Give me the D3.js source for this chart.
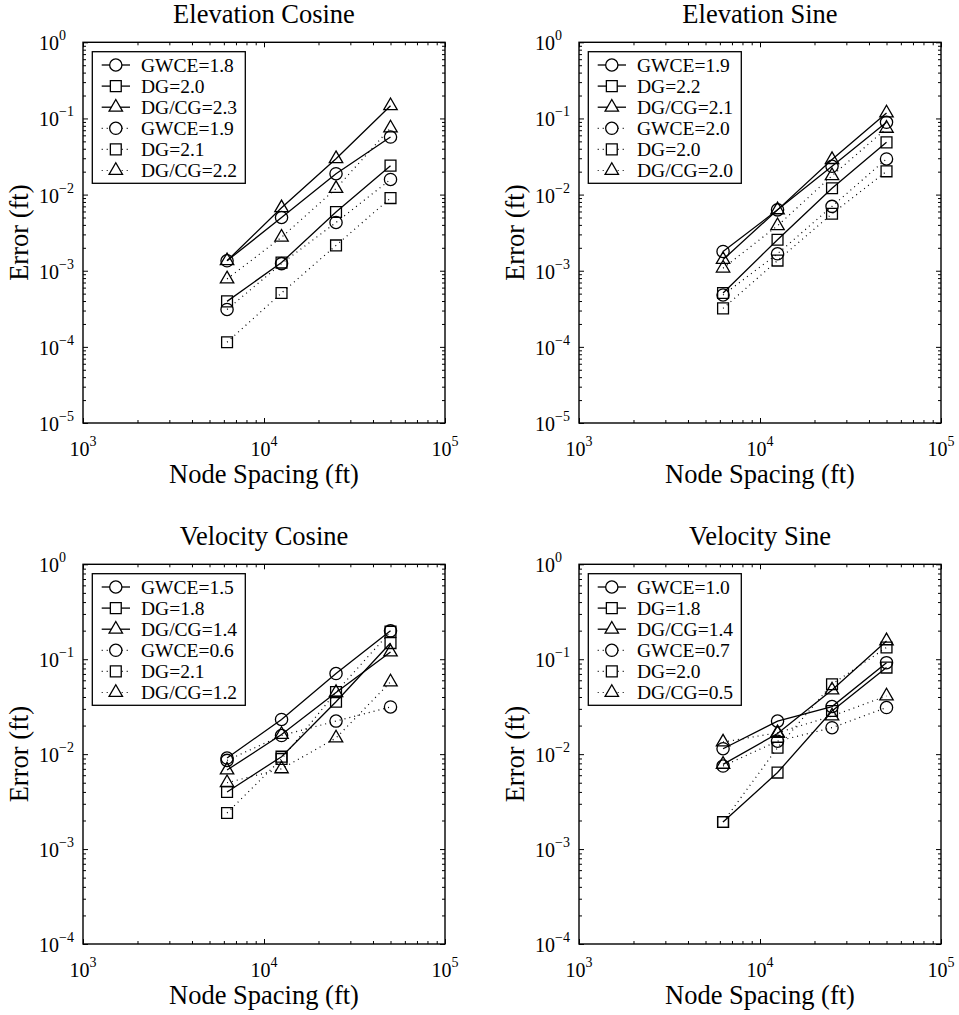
<!DOCTYPE html>
<html>
<head>
<meta charset="utf-8">
<script src="https://cdn.jsdelivr.net/npm/d3@7"></script>
<style>
body { margin: 0; background: white; }
text { font-family: "Liberation Serif", "Times New Roman", serif; fill: black; }
</style>
</head>
<body>
<script>
// node spacings (ft) shared by every panel
var spacing = [6250, 12500, 25000, 50000];

// errors (ft): solid GWCE, DG, DG/CG then dotted GWCE, DG, DG/CG
var elevCosLabels = ["GWCE=1.8", "DG=2.0", "DG/CG=2.3", "GWCE=1.9", "DG=2.1", "DG/CG=2.2"];
var elevCos = [
    [1.35e-3, 5.0e-3, 0.0188, 0.057],
    [3.96e-4, 1.28e-3, 5.9e-3, 0.024],
    [1.35e-3, 6.7e-3, 0.0296, 0.147],
    [3.1e-4, 1.24e-3, 4.3e-3, 0.0158],
    [1.15e-4, 5.1e-4, 2.15e-3, 9.0e-3],
    [7.8e-4, 2.75e-3, 0.012, 0.075]
];
var elevSinLabels = ["GWCE=1.9", "DG=2.2", "DG/CG=2.1", "GWCE=2.0", "DG=2.0", "DG/CG=2.0"];
var elevSin = [
    [1.79e-3, 6.3e-3, 0.0235, 0.089],
    [5.1e-4, 2.55e-3, 0.0121, 0.0485],
    [1.4e-3, 6.3e-3, 0.0288, 0.118],
    [4.8e-4, 1.67e-3, 7.0e-3, 0.0294],
    [3.2e-4, 1.36e-3, 5.6e-3, 0.0202],
    [1.08e-3, 3.9e-3, 0.0177, 0.074]
];
var velCosLabels = ["GWCE=1.5", "DG=1.8", "DG/CG=1.4", "GWCE=0.6", "DG=2.1", "DG/CG=1.2"];
var velCos = [
    [9.1e-3, 0.0232, 0.0706, 0.199],
    [4.0e-3, 9.4e-3, 0.0357, 0.148],
    [6.8e-3, 0.0161, 0.0445, 0.119],
    [8.6e-3, 0.0157, 0.0223, 0.0314],
    [2.4e-3, 8.9e-3, 0.0451, 0.195],
    [5.0e-3, 7.0e-3, 0.0148, 0.0576]
];
var velSinLabels = ["GWCE=1.0", "DG=1.8", "DG/CG=1.4", "GWCE=0.7", "DG=2.0", "DG/CG=0.5"];
var velSin = [
    [0.0114, 0.0223, 0.0317, 0.092],
    [1.93e-3, 6.4e-3, 0.0285, 0.0817],
    [7.8e-3, 0.0165, 0.0474, 0.156],
    [7.5e-3, 0.0137, 0.019, 0.031],
    [1.93e-3, 0.0117, 0.0545, 0.133],
    [0.0134, 0.0168, 0.0252, 0.041]
];

var markers = ["circle", "square", "triangle", "circle", "square", "triangle"];
var dotted = [false, false, false, true, true, true];

var panels = [
    {title: "Elevation Cosine", data: elevCos, labels: elevCosLabels, left: 83, top: 42.3, bottom: 423, yMin: 1e-5},
    {title: "Elevation Sine", data: elevSin, labels: elevSinLabels, left: 579, top: 42.3, bottom: 423, yMin: 1e-5},
    {title: "Velocity Cosine", data: velCos, labels: velCosLabels, left: 83, top: 564.3, bottom: 944, yMin: 1e-4},
    {title: "Velocity Sine", data: velSin, labels: velSinLabels, left: 579, top: 564.3, bottom: 944, yMin: 1e-4}
];
var plotWidth = 362;

var svg = d3.select("body").append("svg")
    .attr("width", 959)
    .attr("height", 1015);

function symbolPath(kind) {
    var type = d3.symbolCircle, size = 118;
    if (kind == "square") { type = d3.symbolSquare; size = 118; }
    if (kind == "triangle") { type = d3.symbolTriangle; size = 78; }
    return d3.symbol().type(type).size(size)();
}

// decade + minor ticks for a log domain
function logTicks(lo, hi) {
    var major = [], minor = [];
    for (var e = Math.round(Math.log10(lo)); e <= Math.round(Math.log10(hi)); e++) {
        major.push(Math.pow(10, e));
        if (e < Math.round(Math.log10(hi)))
            for (var m = 2; m <= 9; m++) minor.push(m * Math.pow(10, e));
    }
    return {major: major, minor: minor};
}

// "10" with a raised exponent
function powerLabel(sel, exp) {
    sel.append("tspan").text("10");
    sel.append("tspan").attr("dy", -10).attr("font-size", 14)
        .text(exp < 0 ? "\u2212" + (-exp) : exp);
}

panels.forEach(function(p) {
    var g = svg.append("g");
    var right = p.left + plotWidth;
    var x = d3.scaleLog().domain([1e3, 1e5]).range([p.left, right]);
    var y = d3.scaleLog().domain([p.yMin, 1]).range([p.bottom, p.top]);

    var xt = logTicks(1e3, 1e5), yt = logTicks(p.yMin, 1);

    // tick marks on all four sides, pointing inward
    [[d3.axisBottom, p.bottom, x, "x"], [d3.axisTop, p.top, x, "x"],
     [d3.axisLeft, p.left, y, "y"], [d3.axisRight, right, y, "y"]].forEach(function(a) {
        var ticks = a[3] == "x" ? xt : yt;
        var tr = a[3] == "x" ? "translate(0," + a[1] + ")" : "translate(" + a[1] + ",0)";
        [[ticks.major, 5], [ticks.minor, 3]].forEach(function(t) {
            g.append("g").attr("transform", tr)
                .call(a[0](a[2]).tickValues(t[0]).tickSize(-t[1]).tickFormat(""))
                .call(function(s) {
                    s.select(".domain").remove();
                    s.selectAll("line").attr("stroke", "black").attr("stroke-width", 1);
                });
        });
    });

    g.append("rect")
        .attr("x", p.left).attr("y", p.top)
        .attr("width", plotWidth).attr("height", p.bottom - p.top)
        .attr("fill", "none").attr("stroke", "black").attr("stroke-width", 1.4);

    // tick labels
    xt.major.forEach(function(v) {
        g.append("text")
            .attr("x", x(v)).attr("y", p.bottom + 33)
            .attr("text-anchor", "middle").attr("font-size", 20)
            .call(powerLabel, Math.round(Math.log10(v)));
    });
    yt.major.forEach(function(v) {
        g.append("text")
            .attr("x", p.left - 44).attr("y", y(v) + 8)
            .attr("font-size", 20)
            .call(powerLabel, Math.round(Math.log10(v)));
    });

    g.append("text")
        .attr("x", (p.left + right) / 2).attr("y", p.top - 19)
        .attr("text-anchor", "middle").attr("font-size", 26.5)
        .text(p.title);
    g.append("text")
        .attr("x", (p.left + right) / 2).attr("y", p.bottom + 60)
        .attr("text-anchor", "middle").attr("font-size", 26.5)
        .text("Node Spacing (ft)");
    g.append("text")
        .attr("transform", "translate(" + (p.left - 55) + "," + ((p.top + p.bottom) / 2) + ") rotate(-90)")
        .attr("text-anchor", "middle").attr("font-size", 26.5)
        .text("Error (ft)");

    var line = d3.line()
        .x(function(d, i) { return x(spacing[i]); })
        .y(function(d) { return y(d); });

    p.data.forEach(function(series, k) {
        g.append("path")
            .attr("d", line(series))
            .attr("fill", "none").attr("stroke", "black")
            .attr("stroke-width", dotted[k] ? 1.2 : 1.3)
            .attr("stroke-dasharray", dotted[k] ? "1,4" : null);
        g.selectAll(null)
            .data(series)
            .enter()
            .append("path")
            .attr("d", symbolPath(markers[k]))
            .attr("transform", function(d, i) { return "translate(" + x(spacing[i]) + "," + y(d) + ")"; })
            .attr("fill", "none").attr("stroke", "black").attr("stroke-width", 1.3);
    });

    // legend box
    var lx = p.left + 9.3, ly = p.top + 9.4, rowH = 21.1;
    g.append("rect")
        .attr("x", lx).attr("y", ly)
        .attr("width", 153).attr("height", 131.6)
        .attr("fill", "white").attr("stroke", "black").attr("stroke-width", 1.3);
    p.labels.forEach(function(lab, k) {
        var cy = ly + 13.3 + k * rowH;
        g.append("line")
            .attr("x1", lx + 9.4).attr("x2", lx + 37.7)
            .attr("y1", cy).attr("y2", cy)
            .attr("stroke", "black").attr("stroke-width", dotted[k] ? 1.2 : 1.3)
            .attr("stroke-dasharray", dotted[k] ? "1,4" : null);
        g.append("path")
            .attr("d", symbolPath(markers[k]))
            .attr("transform", "translate(" + (lx + 23.5) + "," + cy + ")")
            .attr("fill", "white").attr("stroke", "black").attr("stroke-width", 1.3);
        g.append("text")
            .attr("x", lx + 48.7).attr("y", cy + 6.7)
            .attr("font-size", 19.5)
            .text(lab);
    });
});
</script>
</body>
</html>
